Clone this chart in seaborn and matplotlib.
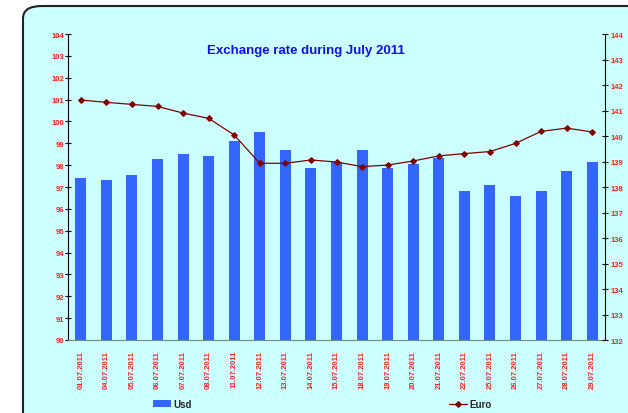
import pandas as pd
import seaborn as sns
import matplotlib.pyplot as plt
from matplotlib.patches import FancyBboxPatch, Patch
from matplotlib.lines import Line2D
from matplotlib.ticker import MultipleLocator, FixedLocator

# data
dates = ["01.07.2011", "04.07.2011", "05.07.2011", "06.07.2011", "07.07.2011",
         "08.07.2011", "11.07.2011", "12.07.2011", "13.07.2011", "14.07.2011",
         "15.07.2011", "18.07.2011", "19.07.2011", "20.07.2011", "21.07.2011",
         "22.07.2011", "25.07.2011", "26.07.2011", "27.07.2011", "28.07.2011",
         "29.07.2011"]
usd = [97.42, 97.33, 97.56, 98.29, 98.52, 98.43, 99.12, 99.53, 98.71, 97.88,
       98.15, 98.70, 97.88, 98.06, 98.34, 96.83, 97.10, 96.60, 96.83, 97.74, 98.15]
euro = [141.41, 141.32, 141.24, 141.16, 140.90, 140.69, 140.04, 138.93, 138.93,
        139.06, 138.98, 138.80, 138.86, 139.02, 139.22, 139.31, 139.39, 139.71,
        140.18, 140.31, 140.16]

df = pd.DataFrame({"date": dates, "Usd": usd, "Euro": euro})

sns.set_style("white")
plt.rcParams['font.family'] = ['Liberation Sans', 'DejaVu Sans']

red = "#FF2020"
bar_color = "#3366FF"
line_color = "#800000"

fig = plt.figure(figsize=(6.28, 4.14), dpi=100)
fig.patch.set_facecolor("white")
bg = FancyBboxPatch((23 / 628, -0.05), 1.0, 1 - 7 / 414 + 0.05,
                    boxstyle="round,pad=0,rounding_size=0.03",
                    transform=fig.transFigure, facecolor="#CCFFFF",
                    edgecolor="#222222", linewidth=1.5, zorder=-10)
fig.patches.append(bg)

ax = fig.add_axes([68 / 628, 1 - 341 / 414, (605 - 68) / 628, (341 - 35) / 414])
ax.set_facecolor("none")

sns.barplot(data=df, x="date", y="Usd", color=bar_color, width=0.43,
            saturation=1, ax=ax, linewidth=0, edgecolor="none")
ax.set_ylim(90, 104)
ax.yaxis.set_major_locator(MultipleLocator(1))
ax.set_xlim(-0.5, len(dates) - 0.5)

ax2 = ax.twinx()
ax2.plot(range(len(dates)), euro, color=line_color, linewidth=0.9,
         marker="D", markersize=2.8)
ax2.set_ylim(132, 144)
ax2.yaxis.set_major_locator(MultipleLocator(1))

for a in (ax, ax2):
    for s in a.spines.values():
        s.set_visible(False)
ax.spines["left"].set_visible(True)
ax.spines["left"].set_color("black")
ax.spines["bottom"].set_visible(True)
ax.spines["bottom"].set_color("#6E8C8C")
ax2.spines["right"].set_visible(True)
ax2.spines["right"].set_color("black")

ax.set_xlabel("")
ax.set_ylabel("")
ax2.set_ylabel("")

ax.tick_params(axis="y", direction="inout", length=4, width=0.8, colors="black",
               labelcolor=red, labelsize=5.5, pad=1)
ax2.tick_params(axis="y", direction="inout", length=4, width=0.8, colors="black",
                labelcolor=red, labelsize=5.5, pad=2)
for lab in ax.get_yticklabels() + ax2.get_yticklabels():
    lab.set_fontweight("bold")

ax.set_xticks(range(len(dates)))
ax.set_xticklabels(dates, rotation=90, fontsize=5.5, color=red, fontweight="bold")
ax.tick_params(axis="x", which="major", length=0, pad=7)
ax.xaxis.set_minor_locator(FixedLocator([i - 0.5 for i in range(len(dates) + 1)]))
ax.tick_params(axis="x", which="minor", length=3, width=0.8, color="black",
               direction="out")

fig.text(306 / 628, 1 - 51 / 414, "Exchange rate during July 2011",
         ha="center", va="center", fontsize=9.5, fontweight="bold", color="#1010F0")

handles = [Patch(facecolor=bar_color, edgecolor="none"),
           Line2D([], [], color=line_color, linewidth=0.9, marker="D", markersize=2.8)]
fig.legend(handles, ["Usd", "Euro"], loc="center", bbox_to_anchor=(322.5 / 628, 1 - 405 / 414),
           ncol=2, frameon=False, columnspacing=26.5,
           handlelength=1.8, handleheight=0.7, handletextpad=0.25,
           prop={"weight": "bold", "size": 7})

fig.savefig("out.png", dpi=100)
